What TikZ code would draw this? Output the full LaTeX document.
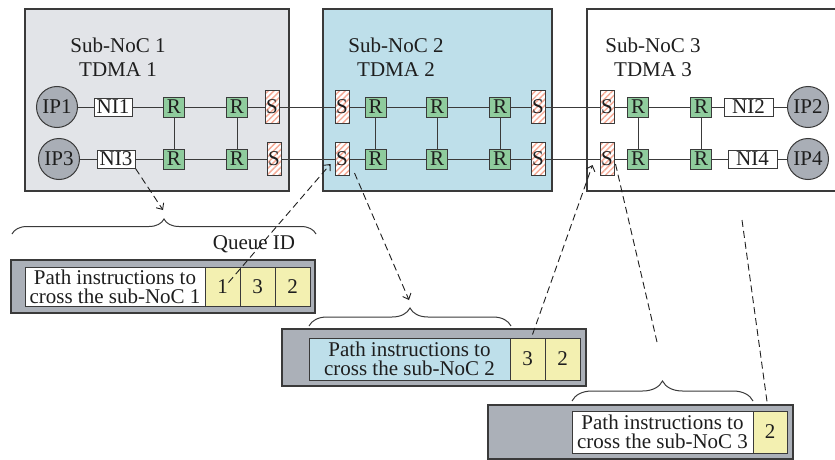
\documentclass[tikz,border=0pt]{standalone}
\usepackage{fontspec}
\setmainfont{Liberation Serif}
\usetikzlibrary{arrows.meta,decorations.pathreplacing,patterns.meta}
\definecolor{edge}{HTML}{3A3A3A}
\definecolor{inktext}{HTML}{1E1E1E}
\definecolor{graybg}{HTML}{E2E4E8}
\definecolor{bluebg}{HTML}{BEDFEA}
\definecolor{ipgray}{HTML}{A9AEB6}
\definecolor{frame}{HTML}{ABB0B8}
\definecolor{rgreen}{HTML}{8FCC9D}
\definecolor{cellyellow}{HTML}{F3F0B1}
\definecolor{stripe}{HTML}{F5A995}
\tikzset{
  txt/.style={font=\fontsize{21}{24}\selectfont,text=inktext,align=center},
  area/.style={draw=edge,line width=1.2pt},
  ip/.style={circle,draw=edge,fill=ipgray,line width=1pt,minimum size=41pt,inner sep=0pt,font=\fontsize{21}{24}\selectfont,text=inktext},
  ni/.style={draw=edge,fill=white,line width=1pt,minimum width=38pt,minimum height=18pt,inner sep=0pt,font=\fontsize{21}{24}\selectfont,text=inktext},
  router/.style={draw=edge,fill=rgreen,line width=1pt,minimum width=21pt,minimum height=20pt,inner sep=0pt,font=\fontsize{21}{24}\selectfont,text=inktext},
  sw/.style={draw=edge,preaction={fill=white},pattern={Lines[angle=45,distance=4.2pt,line width=1.4pt]},pattern color=stripe,line width=1pt,minimum width=14pt,minimum height=33pt,inner sep=0pt,font=\fontsize{21}{24}\selectfont,text=inktext},
  pktframe/.style={draw=edge,fill=frame,line width=1.2pt,inner sep=0pt},
  pkttext/.style={draw=edge,line width=1pt,inner sep=0pt,align=center,font=\fontsize{21}{19}\selectfont,text=inktext},
  cell/.style={draw=edge,fill=cellyellow,line width=1pt,minimum width=35pt,inner sep=0pt,font=\fontsize{21}{24}\selectfont,text=inktext},
  link/.style={draw=edge,line width=1pt},
  curly/.style={draw=edge,line width=1pt,decorate},
  dashline/.style={draw=inktext,line width=0.9pt,dash pattern=on 7pt off 4pt},
  dasharr/.style={dashline,-{Straight Barb[length=5pt,width=9pt]}}
}
\begin{document}
\begin{tikzpicture}[x=1pt,y=-1pt]
\path[use as bounding box] (0,0) rectangle (835,460);
\node[area,fill=graybg,minimum width=264pt,minimum height=182pt] (noc1) at (157,100) {};
\node[area,fill=bluebg,minimum width=229pt,minimum height=182pt] (noc2) at (437.5,100) {};
\node[area,fill=white,minimum width=266pt,minimum height=182pt] (noc3) at (720,100) {};
\node[txt] (t1) at (118,57) {Sub-NoC 1\\TDMA 1};
\node[txt] (t2) at (396,57) {Sub-NoC 2\\TDMA 2};
\node[txt] (t3) at (653,57) {Sub-NoC 3\\TDMA 3};
\node[ip] (ip1) at (57,107) {IP1}; \node[ip] (ip3) at (59,159) {IP3};
\node[ip] (ip2) at (808,107) {IP2}; \node[ip] (ip4) at (808,159) {IP4};
\node[ni] (ni1) at (113,107) {NI1}; \node[ni] (ni3) at (116,159) {NI3};
\node[ni,minimum width=49pt] (ni2) at (748.5,107) {NI2}; \node[ni,minimum width=49pt] (ni4) at (752.5,159) {NI4};
\node[router] (r1a) at (174,107) {R}; \node[router] (r1b) at (237,107) {R};
\node[router] (r1c) at (174,159) {R}; \node[router] (r1d) at (237,159) {R};
\node[router] (r2a) at (375.5,107) {R}; \node[router] (r2b) at (437,107) {R}; \node[router] (r2c) at (500,107) {R};
\node[router] (r2d) at (375.5,159) {R}; \node[router] (r2e) at (437,159) {R}; \node[router] (r2f) at (500,159) {R};
\node[router] (r3a) at (638,107) {R}; \node[router] (r3b) at (701,107) {R};
\node[router] (r3c) at (638,159) {R}; \node[router] (r3d) at (701,159) {R};
\node[sw] (s1a) at (272,107) {S}; \node[sw] (s1b) at (274,159) {S};
\node[sw] (s2a) at (342,107) {S}; \node[sw] (s2b) at (342,159) {S};
\node[sw] (s2c) at (538,107) {S}; \node[sw] (s2d) at (538,159) {S};
\node[sw] (s3a) at (607,107) {S}; \node[sw] (s3b) at (607,159) {S};
\draw[link] (ip1) -- (ni1) -- (r1a) -- (r1b) -- (s1a) -- (s2a) -- (r2a) -- (r2b) -- (r2c) -- (s2c) -- (s3a) -- (r3a) -- (r3b) -- (ni2) -- (ip2);
\draw[link] (ip3) -- (ni3) -- (r1c) -- (r1d) -- (s1b) -- (s2b) -- (r2d) -- (r2e) -- (r2f) -- (s2d) -- (s3b) -- (r3c) -- (r3d) -- (ni4) -- (ip4);
\draw[link] (r1a) -- (r1c); \draw[link] (r1b) -- (r1d);
\draw[link] (r2a) -- (r2d); \draw[link] (r2b) -- (r2e); \draw[link] (r2c) -- (r2f);
\draw[link] (r3a) -- (r3c); \draw[link] (r3b) -- (r3d);
\draw[curly,decoration={brace,amplitude=15pt}] (12,234) -- (316,234);
\draw[curly,decoration={brace,amplitude=18pt}] (309,326) -- (511,326);
\draw[curly,decoration={brace,amplitude=20pt}] (572,401) -- (753,401);
\node[txt] (qid) at (254,244) {Queue ID};
\node[pktframe,minimum width=304pt,minimum height=53pt] (p1) at (163,286.5) {};
\node[pkttext,fill=white,minimum width=180pt,minimum height=39pt] (i1) at (115,286.5) {Path instructions to\\cross the sub-NoC 1};
\node[cell,minimum height=39pt] (c11) at (222.5,286.5) {1}; \node[cell,minimum height=39pt] (c12) at (257.5,286.5) {3}; \node[cell,minimum height=39pt] (c13) at (292.5,286.5) {2};
\node[pktframe,minimum width=304pt,minimum height=57pt] (p2) at (434,357.5) {};
\node[pkttext,fill=bluebg,minimum width=201pt,minimum height=42pt] (i2) at (409.5,359) {Path instructions to\\cross the sub-NoC 2};
\node[cell,minimum height=42pt] (c21) at (527.5,359) {3}; \node[cell,minimum height=42pt] (c22) at (562.5,359) {2};
\node[pktframe,minimum width=305pt,minimum height=54pt] (p3) at (640.5,432) {};
\node[pkttext,fill=white,minimum width=181pt,minimum height=42pt] (i3) at (662.5,432) {Path instructions to\\cross the sub-NoC 3};
\node[cell,minimum width=34pt,minimum height=42pt] (c31) at (770,432) {2};
\coordinate (tip1) at (163,210); \coordinate (tip2) at (409,300);
\coordinate (cut1) at (657,342); \coordinate (cut2) at (742,220);
\draw[dasharr] (ni3.south east) -- (tip1);
\draw[dasharr] ([shift={(6,-4)}]c11.center) -- ([shift={(-4,5)}]s2b.west);
\draw[dasharr] ([shift={(5,14)}]s2b.east) -- (tip2);
\draw[dasharr] ([shift={(5,-3)}]c21.north) -- ([shift={(-7,6)}]s3b.west);
\draw[dashline] ([shift={(1,5)}]s3b.east) -- (cut1);
\draw[dashline] (cut2) -- ([shift={(-3,-9)}]c31.north);
\end{tikzpicture}
\end{document}
